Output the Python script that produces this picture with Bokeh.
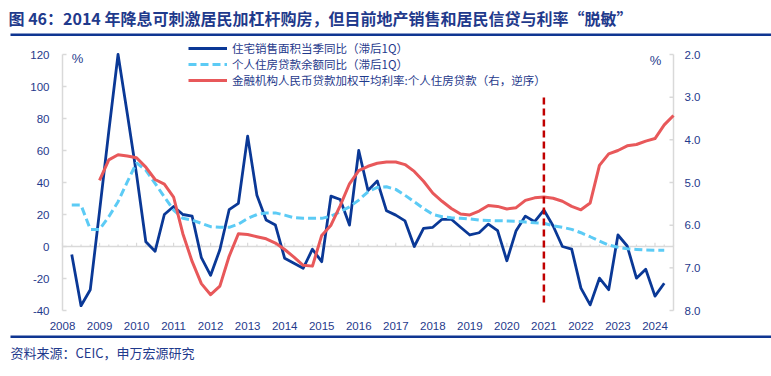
import numpy as np
from bokeh.plotting import figure
from bokeh.models import Range1d, Label, Legend, LegendItem, BoxAnnotation
from bokeh.core.properties import value
from bokeh.embed import file_html
from bokeh.resources import INLINE

# ---------------- texts ----------------
TITLE = "图 46：2014 年降息可刺激居民加杠杆购房，但目前地产销售和居民信贷与利率“脱敏”"
SOURCE = "资料来源：CEIC，申万宏源研究"
NAME_SALES = "住宅销售面积当季同比（滞后1Q）"
NAME_LOAN = "个人住房贷款余额同比（滞后1Q）"
NAME_RATE = "金融机构人民币贷款加权平均利率:个人住房贷款（右，逆序）"
UNIT = "%"

# ---------------- data (quarterly, plotted at quarter end) ----------------
sales_start = "2008Q1"
sales_yoy = [-5, -37, -27, 22, 72, 120, 83, 45, 3, -3, 20, 25, 20, 19, -7, -18,
             -2, 23, 27, 69, 32, 16.5, 13.4, -7.4, -10.5, -13.6, -1.7, -9.5, 31.5, 29.4, 13.4, 60,
             35, 41, 22.3, 19.6, 16, 0, 11.3, 12, 17, 17, 12, 7.2, 8.6, 14, 9.9, -8.9,
             9.9, 19, 15.5, 22.8, 12.8, 0, -1.6, -26, -36.5, -19.8, -27, 7.2, 0.3, -19.8, -14.2, -31,
             -23]

loan_start = "2008Q1"
loan_yoy = [25.9, 25.9, 10.7, 10.7, 18.6, 28, 40.4, 52.3, 47.7, 39.4, 31, 22.8, 17.6, 16.5, 14.5, 12.4,
            12, 12, 14, 17.5, 20, 21, 21, 19.6, 18, 17.6, 17.6, 17.6, 19, 21.7, 24.8, 29,
            34.2, 36.9, 37.3, 35.7, 32, 28, 23.8, 20, 18.6, 18, 17.6, 17.2, 16.5, 16.3, 16.1, 16,
            15.8, 15.3, 14.8, 14.5, 13, 12, 10.7, 8.6, 6.1, 3.4, 0.9, -0.5, -1.4, -1.8, -2.2, -2.3,
            -2.4]

rate_start = "2008Q4"
mortgage_rate = [4.95, 4.47, 4.35, 4.38, 4.42, 4.64, 4.93, 5.04, 5.34, 6.2, 6.85, 7.37, 7.63,
                 7.43, 6.73, 6.2, 6.22, 6.27, 6.32, 6.42, 6.57, 6.75, 6.94, 6.96, 6.24,
                 6.0, 5.54, 5.03, 4.72, 4.62, 4.55, 4.52, 4.52, 4.58, 4.74, 4.97, 5.25,
                 5.44, 5.61, 5.74, 5.76, 5.67, 5.54, 5.56, 5.62, 5.59, 5.42, 5.36, 5.34,
                 5.37, 5.44, 5.56, 5.64, 5.48, 4.6, 4.33, 4.25, 4.14, 4.11, 4.03, 3.97,
                 3.65, 3.43]

left_ticks = [-40, -20, 0, 20, 40, 60, 80, 100, 120]
left_labels = ["-40", "-20", "0", "20", "40", "60", "80", "100", "120"]
right_ticks = [2, 3, 4, 5, 6, 7, 8]
right_labels = ["2.0", "3.0", "4.0", "5.0", "6.0", "7.0", "8.0"]
year_ticks = list(range(2008, 2025))
year_labels = [str(y) for y in year_ticks]
marker_year = 2021
marker_low, marker_high = -35, 95


def quarter_ends(start, n):
    y, q = int(start[:4]), int(start[5])
    out = []
    for i in range(n):
        k = q - 1 + i
        out.append(y + k // 4 + (k % 4 + 1) * 0.25)
    return out


xs_sales = quarter_ends(sales_start, len(sales_yoy))
xs_loan = quarter_ends(loan_start, len(loan_yoy))
xs_rate = quarter_ends(rate_start, len(mortgage_rate))

# ---------------- style / geometry ----------------
NAVY = "#1F3A8C"
RULE = "#0F3591"
BLUE = "#0A3896"
CYAN = "#5CCBF5"
RED = "#E8585A"
MARK = "#C00000"
GRAY = "#D9D9D9"
CJK = "Noto Sans CJK SC"
NUM = "Liberation Sans"

W, H = 771, 376
# plot area in canvas pixels
FL, FR, FT, FB = 62, 673, 54, 310
X0, X1 = 2008, 2024.5
Y0, Y1 = -40, 120
R0, R1 = 8, 2          # right axis, reversed (bottom value, top value)

kx = (FR - FL) / (X1 - X0)
ky = (FB - FT) / (Y1 - Y0)
kr = (FB - FT) / (R0 - R1)


def dx(px):  # canvas px -> x data
    return X0 + (px - FL) / kx


def dy(py):  # canvas py -> left-axis data
    return Y0 + (FB - py) / ky


p = figure(width=W, height=H, title=None,
           x_range=Range1d(dx(0), dx(W)), y_range=Range1d(dy(H), dy(0)),
           x_axis_location=None, y_axis_location=None,
           output_backend="svg", toolbar_location=None,
           min_border=0, background_fill_color="white", border_fill_color="white")
p.extra_y_ranges = {"rate": Range1d(R0 + (H - FB) / kr, R1 - FT / kr)}
p.outline_line_color = None
p.xgrid.visible = False
p.ygrid.visible = False

# ---- left axis ----
p.segment(x0=[X0], y0=[Y0], x1=[X0], y1=[Y1], line_color=GRAY, line_width=1.5)
p.segment(x0=[X0] * len(left_ticks), y0=left_ticks, x1=[dx(FL + 4)] * len(left_ticks), y1=left_ticks,
          line_color=GRAY, line_width=1.5)
p.text(x=[dx(FL - 13)] * len(left_ticks), y=left_ticks, text=left_labels,
       text_align="right", text_baseline="middle", text_font=value(NUM),
       text_font_size="11.5px", text_color=NAVY)

# ---- right axis (reversed) ----
p.segment(x0=[X1], y0=[R0], x1=[X1], y1=[R1], line_color=GRAY, line_width=1.5, y_range_name="rate")
p.segment(x0=[X1] * len(right_ticks), y0=right_ticks, x1=[dx(FR - 4)] * len(right_ticks), y1=right_ticks,
          line_color=GRAY, line_width=1.5, y_range_name="rate")
p.text(x=[dx(FR + 11)] * len(right_ticks), y=right_ticks, text=right_labels,
       text_align="left", text_baseline="middle", text_font=value(NUM),
       text_font_size="11.5px", text_color=NAVY, y_range_name="rate")

# ---- category axis at zero with quarterly ticks ----
p.segment(x0=[X0], y0=[0], x1=[X1], y1=[0], line_color=GRAY, line_width=1.5)
qt = np.arange(X0, X1 + 1e-9, 0.25)
is_year = np.isclose(qt, np.round(qt))
p.segment(x0=qt, y0=np.zeros_like(qt), x1=qt, y1=np.where(is_year, 2.4, 1.3),
          line_color=GRAY, line_width=1.2)
p.text(x=year_ticks, y=[dy(325)] * len(year_ticks), text=year_labels,
       text_align="center", text_baseline="middle", text_font=value(NUM),
       text_font_size="11.5px", text_color=NAVY)

# ---- series ----
r_sales = p.line(xs_sales, sales_yoy, line_color=BLUE, line_width=2.8, line_join="round")
r_loan = p.line(xs_loan, loan_yoy, line_color=CYAN, line_width=3, line_dash="8 4")
r_rate = p.line(xs_rate, mortgage_rate, line_color=RED, line_width=3, line_join="round",
                y_range_name="rate")

# marker line
p.segment(x0=[marker_year], y0=[marker_low], x1=[marker_year], y1=[marker_high],
          line_color=MARK, line_width=2.5, line_dash="7 4")

# ---- legend ----
legend = Legend(items=[LegendItem(label=NAME_SALES, renderers=[r_sales]),
                       LegendItem(label=NAME_LOAN, renderers=[r_loan]),
                       LegendItem(label=NAME_RATE, renderers=[r_rate])],
                location=(188, H - 88), orientation="vertical",
                padding=0, margin=0, spacing=0,
                glyph_width=39, glyph_height=14, label_height=14, label_standoff=5,
                label_text_font=CJK, label_text_font_size="11.5px", label_text_color=NAVY,
                label_text_line_height=1.1,
                border_line_color=None, background_fill_alpha=0)
p.add_layout(legend)

# ---- texts (screen units = canvas px from bottom-left) ----
p.add_layout(Label(x=8, y=H - 17, x_units="screen", y_units="screen", text=TITLE,
                   text_font=CJK, text_font_size="16px", text_font_style="bold",
                   text_color=NAVY, text_baseline="middle", text_align="left"))
p.add_layout(Label(x=10, y=H - 352, x_units="screen", y_units="screen", text=SOURCE,
                   text_font=CJK, text_font_size="13px",
                   text_color=NAVY, text_baseline="middle", text_align="left"))
p.add_layout(Label(x=77, y=H - 58, x_units="screen", y_units="screen", text=UNIT,
                   text_font=NUM, text_font_size="13px",
                   text_color=NAVY, text_baseline="middle", text_align="center"))
p.add_layout(Label(x=655, y=H - 60, x_units="screen", y_units="screen", text=UNIT,
                   text_font=NUM, text_font_size="13px",
                   text_color=NAVY, text_baseline="middle", text_align="center"))

# ---- rules ----
for top in (33, 335):
    p.add_layout(BoxAnnotation(left=10, right=W, top=H - top, bottom=H - top - 2.5,
                               left_units="screen", right_units="screen",
                               top_units="screen", bottom_units="screen",
                               fill_color=RULE, fill_alpha=1, line_color=None, level="overlay"))

open("out.html", "w").write(file_html(p, INLINE))
